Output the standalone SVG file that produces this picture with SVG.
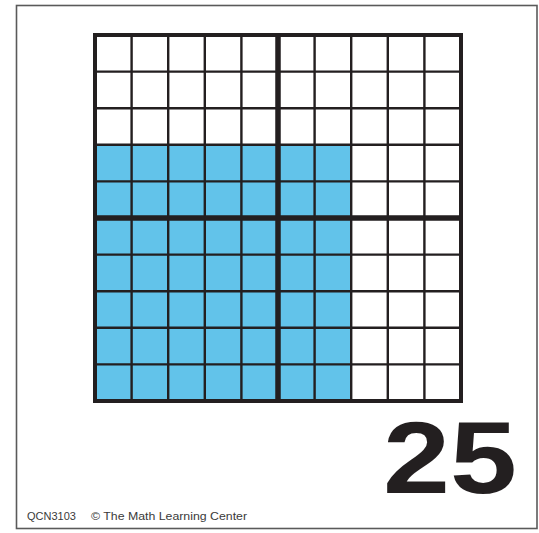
<svg xmlns="http://www.w3.org/2000/svg" width="539" height="533" viewBox="0 0 539 533">
<style>
.thin{stroke:#231f20;stroke-width:2.4;fill:none}
.mid{stroke:#231f20;stroke-width:5.5;fill:none}
.out{stroke:#231f20;stroke-width:4;fill:none}
.small{font-family:"Liberation Sans",Arial,sans-serif;font-size:11px;fill:#3a3a3a}
</style>
<rect x="0" y="0" width="539" height="533" fill="#ffffff"/>
<rect id="card" x="16.5" y="5.5" width="520.5" height="523" fill="#ffffff" stroke="#5a5a5a" stroke-width="1.6"/>
<g id="shaded">
<rect x="95" y="144.8" width="256.2" height="256.2" fill="#62c3ea"/>
</g>
<g id="grid">
<path class="thin" d="M131.6 35V401M168.2 35V401M204.8 35V401M241.4 35V401M314.6 35V401M351.2 35V401M387.8 35V401M424.4 35V401"/>
<path class="thin" d="M95 71.6H461M95 108.2H461M95 144.8H461M95 181.4H461M95 254.6H461M95 291.2H461M95 327.8H461M95 364.4H461"/>
<path class="mid" d="M278 35V401M95 218H461"/>
<rect class="out" x="95" y="35" width="366" height="366"/>
</g>
<g id="number">
<text x="383" y="493" font-family="'Liberation Sans',Arial,sans-serif" font-weight="bold" font-size="102" fill="#231f20" textLength="134" lengthAdjust="spacingAndGlyphs">25</text>
</g>
<g id="footer">
<text class="small" x="27" y="520">QCN3103</text>
<text class="small" x="91" y="520" textLength="156" lengthAdjust="spacingAndGlyphs">© The Math Learning Center</text>
</g>
</svg>
